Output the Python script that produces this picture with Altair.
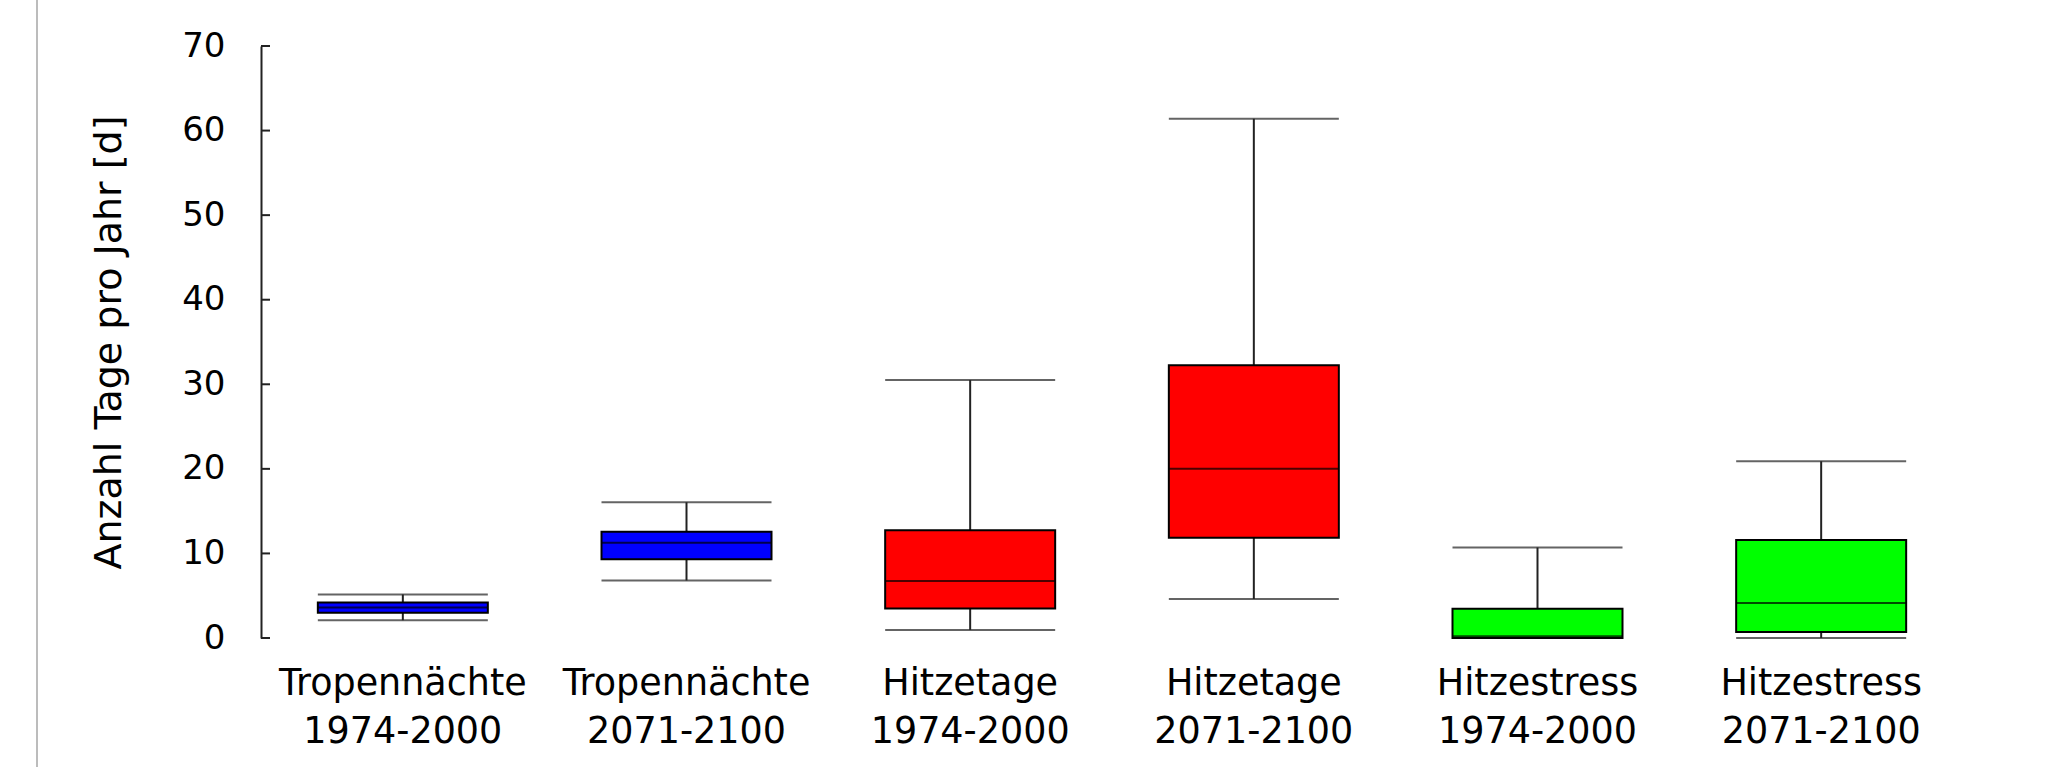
import altair as alt
import pandas as pd

# Box-plot statistics (days per year) for each indicator and period
categories = [
    "Tropennächte\n1974-2000",
    "Tropennächte\n2071-2100",
    "Hitzetage\n1974-2000",
    "Hitzetage\n2071-2100",
    "Hitzestress\n1974-2000",
    "Hitzestress\n2071-2100",
]
whisker_low = [2.1, 6.8, 0.95, 4.6, 0.0, 0.0]
quartile_1 = [3.0, 9.3, 3.5, 11.85, 0.0, 0.7]
median = [3.6, 11.25, 6.75, 20.0, 0.2, 4.15]
quartile_3 = [4.2, 12.55, 12.75, 32.25, 3.45, 11.6]
whisker_high = [5.15, 16.05, 30.5, 61.4, 10.7, 20.9]
box_fill = ["#0000ff", "#0000ff", "#ff0000", "#ff0000", "#00ff00", "#00ff00"]

y_ticks = [0, 10, 20, 30, 40, 50, 60, 70]

df = pd.DataFrame({
    "cat": categories,
    "low": whisker_low,
    "q1": quartile_1,
    "med": median,
    "q3": quartile_3,
    "high": whisker_high,
    "fill": box_fill,
})
ticks_df = pd.DataFrame({"v": y_ticks})

FONT = "DejaVu Sans"
BOX_W = 170
LINE = "#222222"

x_enc = alt.X(
    "cat:N",
    sort=categories,
    scale=alt.Scale(paddingInner=0, paddingOuter=0),
    axis=alt.Axis(
        title=None,
        labelAngle=0,
        domain=False,
        ticks=False,
        tickSize=0,
        labelExpr="split(datum.label, '\\n')",
        labelFont=FONT,
        labelFontSize=36.5,
        labelLineHeight=48,
        labelColor="black",
        labelPadding=27,
        labelBaseline="top",
        labelLimit=1000,
        labelOverlap=False,
    ),
)
y_scale = alt.Scale(domain=[0, 70], nice=False, zero=True)

base = alt.Chart(df)

whisker = base.mark_rule(color=LINE, strokeWidth=2).encode(
    x=x_enc,
    y=alt.Y(
        "low:Q",
        scale=y_scale,
        axis=alt.Axis(
            title="Anzahl Tage pro Jahr [d]",
            values=y_ticks,
            grid=False,
            ticks=False,
            tickSize=0,
            domainColor=LINE,
            domainWidth=2,
            labelFont=FONT,
            labelFontSize=34,
            labelColor="black",
            labelPadding=36,
            titleFont=FONT,
            titleFontSize=38,
            titleFontWeight="normal",
            titleColor="black",
            titlePadding=53,
        ),
    ),
    y2="high:Q",
)

cap_low = base.mark_tick(size=BOX_W, thickness=2, color=LINE, orient="horizontal").encode(
    x=alt.X("cat:N", sort=categories), y=alt.Y("low:Q", scale=y_scale)
)
cap_high = base.mark_tick(size=BOX_W, thickness=2, color=LINE, orient="horizontal").encode(
    x=alt.X("cat:N", sort=categories), y=alt.Y("high:Q", scale=y_scale)
)

box = base.mark_bar(size=BOX_W, stroke="black", strokeWidth=2).encode(
    x=alt.X("cat:N", sort=categories),
    y=alt.Y("q1:Q", scale=y_scale),
    y2="q3:Q",
    fill=alt.Fill("fill:N", scale=None),
)

mid = base.mark_tick(size=BOX_W, thickness=2, color="black", orient="horizontal").encode(
    x=alt.X("cat:N", sort=categories), y=alt.Y("med:Q", scale=y_scale)
)

# inward-pointing tick marks on the value axis
inner_ticks = alt.Chart(ticks_df).mark_rule(color=LINE, strokeWidth=2).encode(
    y=alt.Y("v:Q", scale=y_scale),
    x=alt.value(0),
    x2=alt.value(9),
)

# thin frame line along the left edge of the figure
frame = alt.Chart(ticks_df.head(1)).mark_rule(color="#a6a6a6", strokeWidth=1.5).encode(
    x=alt.value(-224),
    y=alt.value(-46),
    y2=alt.value(740),
)

chart = (
    alt.layer(whisker, cap_low, cap_high, box, mid, inner_ticks, frame)
    .properties(
        width=1702,
        height=592,
        autosize=alt.AutoSizeParams(type="none"),
        padding={"left": 261, "top": 46, "right": 91, "bottom": 129},
        background="white",
    )
    .configure_view(stroke=None)
)

chart.save("out.html", embed_options={"renderer": "svg", "actions": False})
